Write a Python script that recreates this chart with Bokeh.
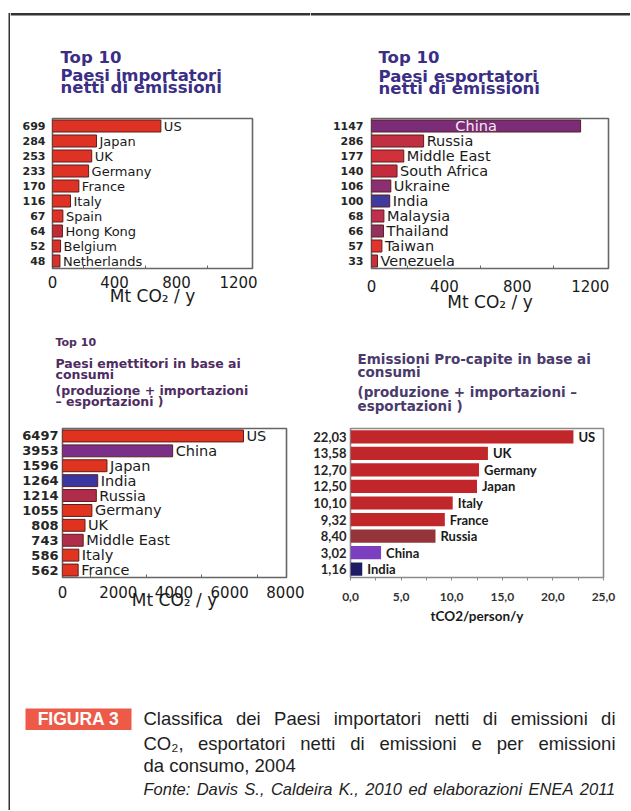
from bokeh.plotting import figure
from bokeh.models import Range1d, FixedTicker, Label, ColumnDataSource
from bokeh.layouts import column, row
from bokeh.embed import file_html
from bokeh.resources import INLINE
from bokeh.core.properties import value

# ---------------- data ----------------
imp_countries = ["US", "Japan", "UK", "Germany", "France", "Italy", "Spain",
                 "Hong Kong", "Belgium", "Netherlands"]
imp_values = [699, 284, 253, 233, 170, 116, 67, 64, 52, 48]
imp_labels = ["699", "284", "253", "233", "170", "116", "67", "64", "52", "48"]
imp_colors = ["#dd3224", "#dd3224", "#dd3224", "#dd3224", "#dd3224", "#dd3224",
              "#dd3224", "#c42a34", "#d9302a", "#d9302a"]

exp_countries = ["China", "Russia", "Middle East", "South Africa", "Ukraine", "India",
                 "Malaysia", "Thailand", "Taiwan", "Venezuela"]
exp_values = [1147, 286, 177, 140, 106, 100, 68, 66, 57, 33]
exp_labels = ["1147", "286", "177", "140", "106", "100", "68", "66", "57", "33"]
exp_colors = ["#7b2c78", "#c22f42", "#d2303a", "#c42c3e", "#8c2f72", "#3e3aa0",
              "#c0304c", "#93305e", "#e0342c", "#c8303c"]
exp_inside = ["China"]

cons_countries = ["US", "China", "Japan", "India", "Russia", "Germany", "UK",
                  "Middle East", "Italy", "France"]
cons_values = [6497, 3953, 1596, 1264, 1214, 1055, 808, 743, 586, 562]
cons_labels = ["6497", "3953", "1596", "1264", "1214", "1055", "808", "743", "586", "562"]
cons_colors = ["#e0321f", "#7a3088", "#e0341f", "#3a35a0", "#b02c4a", "#e0341f",
               "#e0321f", "#b02c4a", "#e0341f", "#e0341f"]

pc_countries = ["US", "UK", "Germany", "Japan", "Italy", "France", "Russia", "China", "India"]
pc_values = [22.03, 13.58, 12.70, 12.50, 10.10, 9.32, 8.40, 3.02, 1.16]
pc_labels = ["22,03", "13,58", "12,70", "12,50", "10,10", "9,32", "8,40", "3,02", "1,16"]
pc_colors = ["#c0262a", "#c0262a", "#c0262a", "#c0262a", "#c0262a", "#c0262a",
             "#963539", "#7b3fc0", "#1f1c66"]

ticks_abs = [0, 400, 800, 1200]
tick_labels_abs = ["0", "400", "800", "1200"]
minor_abs = [200, 600, 1000]
ticks_cons = [0, 2000, 4000, 6000, 8000]
tick_labels_cons = ["0", "2000", "4000", "6000", "8000"]
minor_cons = [1000, 3000, 5000, 7000]
ticks_pc = [0, 5, 10, 15, 20, 25]
tick_labels_pc = ["0,0", "5,0", "10,0", "15,0", "20,0", "25,0"]
minor_pc = [2.5, 7.5, 12.5, 17.5, 22.5]

titles_imp = ["Top 10", "Paesi importatori", "netti di emissioni"]
titles_exp = ["Top 10", "Paesi esportatori", "netti di emissioni"]
titles_cons = ["Top 10", "Paesi emettitori in base ai", "consumi",
               "(produzione + importazioni", "\u2013 esportazioni )"]
titles_pc = ["Emissioni Pro-capite in base ai", "consumi",
             "(produzione + importazioni \u2013", "esportazioni )"]

xlabel_abs = "Mt CO\u2082 / y"
xlabel_pc = "tCO2/person/y"

caption_tag = "FIGURA 3"
caption_lines = ["Classifica dei Paesi importatori netti di emissioni di",
                 "CO\u2082, esportatori netti di emissioni e per emissioni",
                 "da consumo, 2004"]
caption_source = "Fonte: Davis S., Caldeira K., 2010 ed elaborazioni ENEA 2011"

BORDER = "#333333"
W_TOTAL, H_TOTAL = 630, 810
DY = -5  # label baseline correction

# Arial / Liberation Sans advance widths (1/1000 em) used to justify caption lines
ARIAL_W = {" ": 278, ",": 278, ".": 278, ":": 278, "\u2082": 360,
           "a": 556, "b": 556, "c": 500, "d": 556, "e": 556, "f": 278, "g": 556,
           "h": 556, "i": 222, "j": 222, "k": 500, "l": 222, "m": 833, "n": 556,
           "o": 556, "p": 556, "q": 556, "r": 333, "s": 500, "t": 278, "u": 556,
           "v": 500, "w": 722, "x": 500, "y": 500, "z": 500,
           "A": 667, "C": 722, "D": 722, "E": 667, "F": 611, "K": 667, "N": 722,
           "O": 778, "P": 667, "S": 667}


def text_w(s, size):
    return sum(ARIAL_W.get(ch, 556) for ch in s) * size / 1000.0


def make_chart(origin, size, frame, xmax, countries, values, ylabels, colors,
               ticks, tick_labels, minor, xlabel, st, inside_names=()):
    ox, oy = origin
    W, H = size
    fx0, fy0, fx1, fy1 = frame
    n = len(values)
    p = figure(width=W, height=H, x_range=Range1d(0, xmax), y_range=Range1d(0.5, n + 0.5),
               min_border_left=fx0 - ox, min_border_right=ox + W - fx1,
               min_border_top=fy0 - oy, min_border_bottom=oy + H - fy1,
               toolbar_location=None, output_backend="svg",
               background_fill_color="white", border_fill_color="white")
    p.outline_line_color = st["outline"]
    p.outline_line_width = 1.6
    p.grid.visible = False

    ypos = list(range(n, 0, -1))
    src = ColumnDataSource(dict(y=ypos, v=values, c=colors))
    p.hbar(y="y", left=0, right="v", height=st["bar_h"], fill_color="c",
           line_color=st["bar_line"], line_width=1 if st["bar_line"] else 0, source=src)

    inside = [c in inside_names for c in countries]
    out_src = ColumnDataSource(dict(
        x=[v for v, i in zip(values, inside) if not i],
        y=[y for y, i in zip(ypos, inside) if not i],
        t=[c for c, i in zip(countries, inside) if not i]))
    p.text(x="x", y="y", text="t", source=out_src, x_offset=st["name_dx"],
           text_baseline="middle", text_align="left",
           text_font=value(st["name_font"]), text_font_size=st["name_size"],
           text_font_style=st["name_style"], text_color="#1a1a1a")
    if any(inside):
        in_src = ColumnDataSource(dict(
            x=[v / 2 for v, i in zip(values, inside) if i],
            y=[y for y, i in zip(ypos, inside) if i],
            t=[c for c, i in zip(countries, inside) if i]))
        p.text(x="x", y="y", text="t", source=in_src, text_baseline="middle",
               text_align="center", text_font=value(st["name_font"]),
               text_font_size=st["name_size"], text_color="#f4eaf4")

    xa = p.xaxis[0]
    xa.ticker = FixedTicker(ticks=ticks, minor_ticks=minor)
    xa.major_label_overrides = {t: l for t, l in zip(ticks, tick_labels)}
    xa.axis_line_color = None
    xa.major_tick_in = st["xtick_in"]
    xa.major_tick_out = st["xtick_out"]
    xa.minor_tick_in = st["minor_in"]
    xa.minor_tick_out = st["minor_out"]
    xa.major_tick_line_color = st["outline"]
    xa.minor_tick_line_color = st["outline"]
    xa.major_label_standoff = st["xlab_standoff"]
    xa.major_label_text_font = st["xtick_font"]
    xa.major_label_text_font_size = st["xtick_size"]
    xa.major_label_text_font_style = st["xtick_style"]
    xa.major_label_text_color = st["xtick_color"]
    xa.axis_label = xlabel
    xa.axis_label_standoff = st["axis_label_standoff"]
    xa.axis_label_text_font = st["xlabel_font"]
    xa.axis_label_text_font_style = st["xlabel_style"]
    xa.axis_label_text_font_size = st["xlabel_size"]
    xa.axis_label_text_color = "#1a1a1a"

    ya = p.yaxis[0]
    ya.ticker = FixedTicker(ticks=ypos)
    ya.major_label_overrides = {y: l for y, l in zip(ypos, ylabels)}
    ya.axis_line_color = None
    ya.major_tick_in = 0
    ya.major_tick_out = 0
    ya.minor_tick_in = 0
    ya.minor_tick_out = 0
    ya.major_label_standoff = st["ylab_standoff"]
    ya.major_label_text_font = st["ylab_font"]
    ya.major_label_text_font_size = st["ylab_size"]
    ya.major_label_text_font_style = "bold"
    ya.major_label_text_color = "#262626"
    return p


def page_fig(x0, y0, w, h):
    """A blank figure whose data coordinates are page pixels (y downwards)."""
    f = figure(width=w, height=h, x_range=Range1d(x0, x0 + w), y_range=Range1d(y0 + h, y0),
               x_axis_type=None, y_axis_type=None, toolbar_location=None,
               output_backend="svg", min_border=0, outline_line_color=None,
               background_fill_color="white", border_fill_color="white")
    f.grid.visible = False
    return f


def title_fig(x0, y0, w, h, lines, pos, color):
    f = page_fig(x0, y0, w, h)
    for txt, (px, py, fs) in zip(lines, pos):
        f.add_layout(Label(x=px, y=py + DY, text=txt, text_font="DejaVu Sans",
                           text_font_style="bold", text_font_size=fs,
                           text_color=color, text_align="left",
                           text_baseline="alphabetic"))
    return f


base = dict(outline="#666666", bar_h=0.8, bar_line="#5a1e1e", name_dx=3,
            name_font="DejaVu Sans", name_style="normal",
            xtick_in=0, xtick_out=0, minor_in=3, minor_out=0,
            xtick_font="DejaVu Sans", xtick_style="normal", xtick_color="#1a1a1a",
            ylab_font="DejaVu Sans", xlabel_font="DejaVu Sans", xlabel_style="normal",
            xlabel_size="17px")

st1 = dict(base, name_size="13px", xlab_standoff=7, xtick_size="15px",
           axis_label_standoff=-5, ylab_standoff=7, ylab_size="11px")
st2 = dict(base, name_size="14.5px", xlab_standoff=11, xtick_size="15px",
           axis_label_standoff=-3, ylab_standoff=8, ylab_size="11px")
st3 = dict(base, name_size="14.5px", xlab_standoff=8, xtick_size="15px",
           axis_label_standoff=-11, ylab_standoff=4, ylab_size="13px")
st4 = dict(base, outline="#8a8a8a", bar_line=None, name_dx=5,
           name_font="Lato", name_style="bold", name_size="13px",
           xtick_in=0, xtick_out=3, minor_in=0, minor_out=3,
           xlab_standoff=12, xtick_font="Lato", xtick_size="12px", xtick_style="bold",
           xtick_color="#333333", axis_label_standoff=4,
           ylab_standoff=4, ylab_font="Lato", ylab_size="13px",
           xlabel_font="Lato", xlabel_style="bold", xlabel_size="13.5px")

# ---- row 1 : titles (y 0..110) and charts (y 110..320)
t1 = title_fig(10, 0, 300, 110, titles_imp,
               [(60, 62, "16.5px"), (60, 80, "16.5px"), (60, 92, "16.5px")], "#3b2f85")
t2 = title_fig(310, 0, 320, 110, titles_exp,
               [(378, 62, "16.5px"), (378, 81, "16.5px"), (378, 93, "16.5px")], "#3b2f85")
for t, xa0, xa1 in ((t1, 10, 310), (t2, 310, 630)):
    t.quad(left=[xa0], right=[xa1], top=[12.5], bottom=[15], fill_color=BORDER, line_color=None)

f1 = make_chart((10, 110), (300, 210), (52, 117, 252, 268), 1290,
                imp_countries, imp_values, imp_labels, imp_colors,
                ticks_abs, tick_labels_abs, minor_abs, xlabel_abs, st1)
f2 = make_chart((310, 110), (320, 210), (371, 118, 608, 272), 1300,
                exp_countries, exp_values, exp_labels, exp_colors,
                ticks_abs, tick_labels_abs, minor_abs, xlabel_abs, st2, exp_inside)

# ---- row 2 : titles (y 320..418) and charts (y 418..650)
t3 = title_fig(10, 320, 300, 98, titles_cons,
               [(55, 347, "11px"), (55, 368, "12.5px"), (55, 379, "12.5px"),
                (55, 395, "12.5px"), (55, 406, "12.5px")], "#4e2c62")
t4 = title_fig(310, 320, 320, 98, titles_pc,
               [(357, 363, "13.5px"), (357, 376, "13.5px"),
                (357, 396, "13.5px"), (357, 410, "13.5px")], "#4b3a6c")

f3 = make_chart((10, 418), (300, 232), (62, 427, 286, 579), 8040,
                cons_countries, cons_values, cons_labels, cons_colors,
                ticks_cons, tick_labels_cons, minor_cons, xlabel_abs, st3)
f4 = make_chart((310, 418), (320, 232), (349, 428, 603, 577), 25,
                pc_countries, pc_values, pc_labels, pc_colors,
                ticks_pc, tick_labels_pc, minor_pc, xlabel_pc, st4)

# ---- caption (y 650..810)
cap = page_fig(10, 650, 620, 160)
cap.quad(left=[25], right=[131], top=[708], bottom=[729.5], fill_color="#ee5a48", line_color=None)
cap.add_layout(Label(x=78, y=723 + DY, text=caption_tag, text_font="Liberation Sans",
                     text_font_style="bold", text_font_size="17.5px", text_color="white",
                     text_align="center", text_baseline="alphabetic"))


def put_line(fig, txt, x0, x1, yb, size, style, justify):
    words = txt.split(" ")
    if not justify or len(words) < 2:
        fig.add_layout(Label(x=x0, y=yb + DY, text=txt, text_font="Liberation Sans",
                             text_font_style=style, text_font_size=f"{size}px",
                             text_color="#1e1e1e", text_align="left",
                             text_baseline="alphabetic"))
        return
    widths = [text_w(w, size) for w in words]
    gap = (x1 - x0 - sum(widths)) / (len(words) - 1)
    x = x0
    for w, wd in zip(words, widths):
        fig.add_layout(Label(x=x, y=yb + DY, text=w, text_font="Liberation Sans",
                             text_font_style=style, text_font_size=f"{size}px",
                             text_color="#1e1e1e", text_align="left",
                             text_baseline="alphabetic"))
        x += wd + gap


put_line(cap, caption_lines[0], 143, 615, 723, 18.5, "normal", True)
put_line(cap, caption_lines[1], 143, 615, 748, 18.5, "normal", True)
put_line(cap, caption_lines[2], 143, 615, 770, 18.5, "normal", False)
put_line(cap, caption_source, 143, 616, 793, 16.5, "italic", True)

# ---- left frame line
left_bar = page_fig(0, 0, 10, H_TOTAL)
left_bar.quad(left=[8], right=[10], top=[12.5], bottom=[H_TOTAL], fill_color=BORDER, line_color=None)

layout = row(left_bar, column(row(t1, t2), row(f1, f2), row(t3, t4), row(f3, f4), cap))

with open("out.html", "w") as fh:
    fh.write(file_html(layout, INLINE))
